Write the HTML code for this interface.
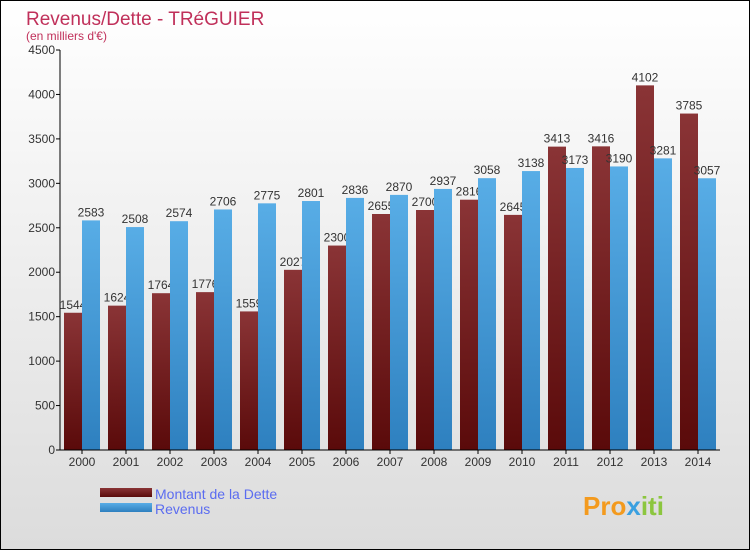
<!DOCTYPE html>
<html><head><meta charset="utf-8"><style>
body{margin:0}
svg{display:block;font-family:"Liberation Sans","DejaVu Sans",sans-serif}
</style></head><body>
<svg width="750" height="550" xmlns="http://www.w3.org/2000/svg">
<defs>
<linearGradient id="bg" x1="0" y1="0" x2="0" y2="1"><stop offset="0" stop-color="#ffffff"/><stop offset="1" stop-color="#dcdcdc"/></linearGradient>
<linearGradient id="red" x1="0" y1="0" x2="0" y2="1"><stop offset="0" stop-color="#8a3436"/><stop offset="1" stop-color="#5a0a0a"/></linearGradient>
<linearGradient id="blue" x1="0" y1="0" x2="0" y2="1"><stop offset="0" stop-color="#58ade6"/><stop offset="1" stop-color="#2e80bf"/></linearGradient>
</defs>
<rect x="0.5" y="0.5" width="749" height="549" fill="url(#bg)" stroke="#000"/>
<text x="26" y="25" font-size="19" fill="#c0305a">Revenus/Dette - TRéGUIER</text>
<text x="26" y="40" font-size="12" fill="#c0305a">(en milliers d'€)</text>
<g id="plot"></g>
<g>
<rect x="100" y="488" width="52" height="9" fill="url(#red)"/>
<text x="155" y="499" font-size="14" fill="#5b6cf0">Montant de la Dette</text>
<rect x="100" y="503" width="52" height="9" fill="url(#blue)"/>
<text x="155" y="514" font-size="14" fill="#5b6cf0">Revenus</text>
</g>
<text x="583" y="515" font-size="26" font-weight="bold" fill="#f39a1e">Pro<tspan fill="#3aa0e0">x</tspan><tspan fill="#8cc63f">iti</tspan></text>
</svg>
<script>
const years=["2000","2001","2002","2003","2004","2005","2006","2007","2008","2009","2010","2011","2012","2013","2014"];
const dette=[1544,1624,1764,1776,1559,2027,2300,2655,2700,2816,2645,3413,3416,4102,3785];
const revenus=[2583,2508,2574,2706,2775,2801,2836,2870,2937,3058,3138,3173,3190,3281,3057];
const ticks=[0,500,1000,1500,2000,2500,3000,3500,4000,4500];
const NS="http://www.w3.org/2000/svg";
const g=document.getElementById('plot');
const x0=60,y0=450,yTop=50,maxV=4500,step=44,bw=18;
const y=v=>y0-(v/maxV)*(y0-yTop);
const gx=i=>x0+22+i*step;
function mk(t,a,p){const e=document.createElementNS(NS,t);for(const k in a)e.setAttribute(k,a[k]);(p||g).appendChild(e);return e;}
ticks.forEach(t=>{
 const l=mk('line',{x1:x0-4,x2:x0,y1:y(t),y2:y(t),stroke:'#000'});
 
 
 const tx=mk('text',{x:x0-5,y:y(t)+4,'font-size':12,'text-anchor':'end',fill:'#333'});
 tx.textContent=t;
 
 
});
years.forEach((yr,i)=>{
 const c=gx(i);
 const r=mk('rect',{x:c-bw,y:y(dette[i]),width:bw,height:y0-y(dette[i]),fill:'url(#red)'});
 
 
 const t=mk('text',{x:c-bw/2,y:y(dette[i])-4,'font-size':12,'text-anchor':'middle',fill:'#333'});
 t.textContent=dette[i];
 
 
});
years.forEach((yr,i)=>{
 const c=gx(i);
 const b=mk('rect',{x:c,y:y(revenus[i]),width:bw,height:y0-y(revenus[i]),fill:'url(#blue)'});
 
 
 const t=mk('text',{x:c+bw/2,y:y(revenus[i])-4,'font-size':12,'text-anchor':'middle',fill:'#333'});
 t.textContent=revenus[i];
 
 
 const tk=mk('line',{x1:c,x2:c,y1:y0,y2:y0+4,stroke:'#000'});
 
 
 const yl=mk('text',{x:c,y:y0+16,'font-size':12,'text-anchor':'middle',fill:'#333'});
 yl.textContent=yr;
 
 
});
const ya=mk('line',{x1:x0,x2:x0,y1:yTop,y2:y0,stroke:'#000'});


const xa=mk('line',{x1:x0,x2:x0+15*step,y1:y0,y2:y0,stroke:'#000'});


</script>
</body></html>
